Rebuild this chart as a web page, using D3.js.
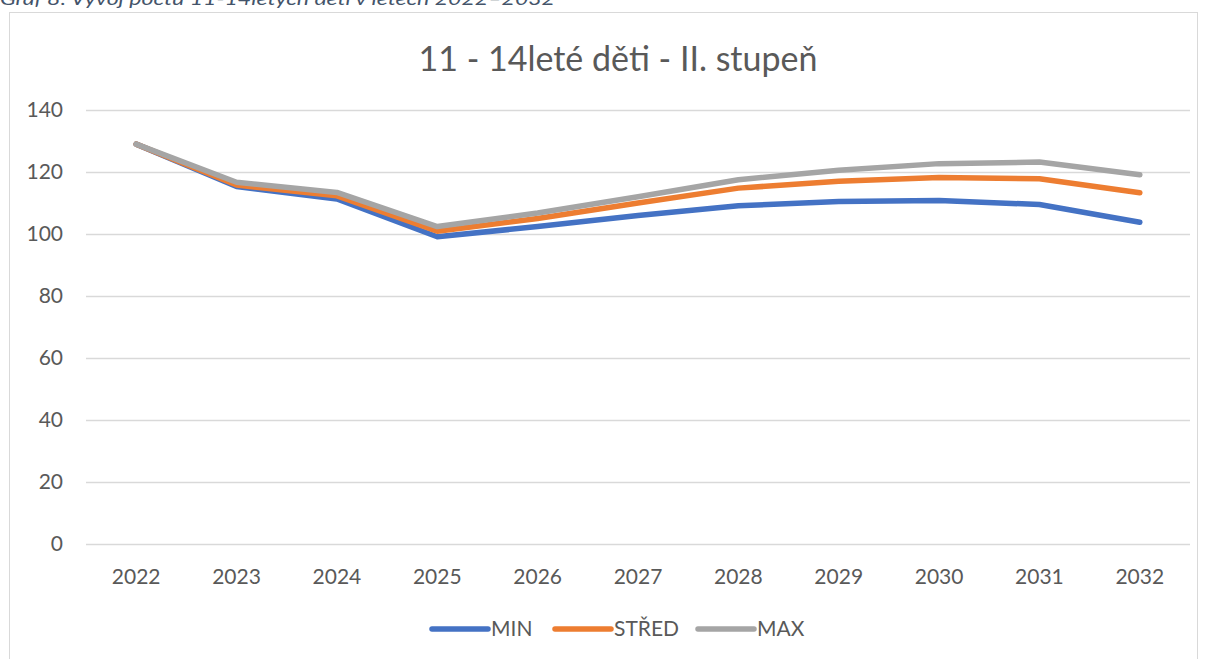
<!DOCTYPE html>
<html><head><meta charset="utf-8">
<script src="https://cdn.jsdelivr.net/npm/d3@7"></script>
<style>body{margin:0;background:#fff;} svg{display:block;}</style>
</head><body>
<script>
const years = ["2022","2023","2024","2025","2026","2027","2028","2029","2030","2031","2032"];
const minVals   = [129, 115.3, 111.3, 99.1, 102.4, 106.0, 109.1, 110.5, 110.8, 109.5, 103.8];
const stredVals = [129, 115.8, 112.3, 100.9, 105.0, 110.0, 114.8, 117.0, 118.2, 117.8, 113.3];
const maxVals   = [129, 116.7, 113.4, 102.4, 106.8, 112.0, 117.5, 120.6, 122.7, 123.2, 119.1];
const yTicks = [0,20,40,60,80,100,120,140];
const seriesNames = ["MIN","STŘED","MAX"];
const colors = ["#4472C4","#ED7D31","#A5A5A5"];
const captionText = "Graf 8: Vývoj počtu 11-14letých dětí v letech 2022–2032";
const titleText = "11 - 14leté děti - II. stupeň";

const W=1209,H=659;
const svg=d3.select("body").append("svg").attr("width",W).attr("height",H);
const font="Lato, 'Open Sans', sans-serif";

svg.append("text").attr("x",0).attr("y",5).attr("font-family",font).attr("font-style","italic")
  .attr("font-size",17).attr("fill","#44546A").attr("textLength",555).attr("lengthAdjust","spacingAndGlyphs").text(captionText);

svg.append("rect").attr("x",9.5).attr("y",12.5).attr("width",1188).attr("height",700)
  .attr("fill","#fff").attr("stroke","#D9D9D9").attr("stroke-width",1);

svg.append("text").attr("x",618).attr("y",71).attr("text-anchor","middle").attr("font-family",font)
  .attr("font-size",34).attr("fill","#595959").text(titleText);

const x=d3.scaleBand().domain(years).range([86,1190]);
const y=d3.scaleLinear().domain([0,140]).range([544,110]);

const g=svg.append("g");
g.selectAll("line.grid").data(yTicks).join("line").attr("class","grid")
  .attr("x1",86).attr("x2",1190).attr("y1",d=>Math.round(y(d))+0.5).attr("y2",d=>Math.round(y(d))+0.5)
  .attr("stroke","#D9D9D9").attr("stroke-width",1.3);

g.selectAll("text.yt").data(yTicks).join("text").attr("class","yt")
  .attr("x",63).attr("y",d=>y(d)).attr("dy","0.35em").attr("text-anchor","end")
  .attr("font-family",font).attr("font-size",21).attr("fill","#595959").text(d=>d);

g.selectAll("text.xt").data(years).join("text").attr("class","xt")
  .attr("x",d=>x(d)+x.bandwidth()/2).attr("y",584).attr("text-anchor","middle")
  .attr("font-family",font).attr("font-size",21).attr("fill","#595959").text(d=>d);

const data=[minVals,stredVals,maxVals];
const line=d3.line().x((d,i)=>x(years[i])+x.bandwidth()/2).y(d=>y(d));
data.forEach((vals,k)=>{
  g.append("path").attr("d",line(vals)).attr("fill","none").attr("stroke",colors[k])
    .attr("stroke-width",5.5).attr("stroke-linecap","round").attr("stroke-linejoin","round");
});

const legX=[432,555,698];
const lg=svg.append("g");
seriesNames.forEach((n,k)=>{
  lg.append("line").attr("x1",legX[k]).attr("x2",legX[k]+56).attr("y1",629).attr("y2",629)
    .attr("stroke",colors[k]).attr("stroke-width",5.5).attr("stroke-linecap","round");
  lg.append("text").attr("x",legX[k]+59).attr("y",629).attr("dy","0.35em")
    .attr("font-family",font).attr("font-size",21).attr("fill","#595959").text(n);
});
</script>
</body></html>
